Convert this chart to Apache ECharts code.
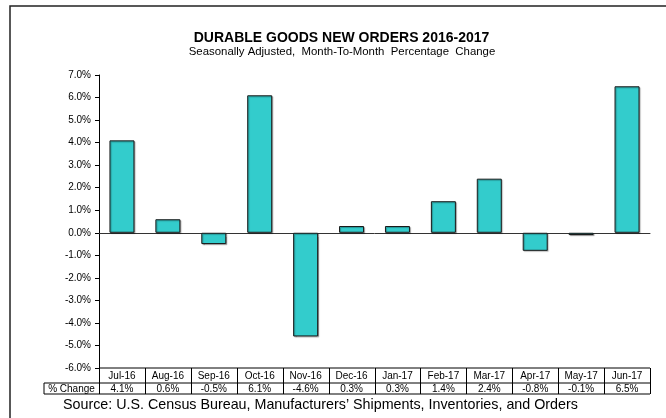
<!DOCTYPE html>
<html>
<head>
<meta charset="utf-8">
<script src="https://cdn.jsdelivr.net/npm/echarts@6/dist/echarts.min.js"></script>
<style>
html,body{margin:0;padding:0;background:#fff;}
#c{width:666px;height:418px;}
</style>
</head>
<body>
<div id="c"></div>
<script>
var categories = ['Jul-16','Aug-16','Sep-16','Oct-16','Nov-16','Dec-16','Jan-17','Feb-17','Mar-17','Apr-17','May-17','Jun-17'];
var values = [4.1, 0.6, -0.5, 6.1, -4.6, 0.3, 0.3, 1.4, 2.4, -0.8, -0.1, 6.5];
var rowHeader = '% Change';
var titleText = 'DURABLE GOODS NEW ORDERS 2016-2017';
var subText = 'Seasonally Adjusted,  Month-To-Month  Percentage  Change';
var sourceText = 'Source: U.S. Census Bureau, Manufacturers\u2019 Shipments, Inventories, and Orders';

var FONT = '"Liberation Sans", Arial, sans-serif';
var chart = echarts.init(document.getElementById('c'), null, {renderer:'canvas'});

var option = {
  backgroundColor: '#fff',
  animation: false,
  grid: {left: 99, right: 16, top: 75, bottom: 50, containLabel: false},
  xAxis: [{
    type: 'category',
    data: categories,
    axisLine: {onZero: true, lineStyle: {color: '#333', width: 1}},
    axisTick: {show: false},
    axisLabel: {show: false},
    splitLine: {show: false}
  }],
  yAxis: [{
    type: 'value',
    min: -6, max: 7, interval: 1,
    axisLine: {show: true, lineStyle: {color: '#000', width: 1}},
    axisTick: {show: true, inside: false, length: 4, lineStyle: {color: '#000'}},
    axisLabel: {margin: 8, fontSize: 10, color: '#000', fontFamily: FONT,
      formatter: function(v){ return v.toFixed(1) + '%'; }},
    splitLine: {show: false}
  }],
  series: [{
    type: 'bar',
    data: values,
    barWidth: 25,
    itemStyle: {
      color: '#33CCCC',
      borderColor: '#1a1a1a',
      borderWidth: 1,
      shadowColor: 'rgba(0,0,0,0.3)',
      shadowOffsetX: 1,
      shadowOffsetY: 1,
      shadowBlur: 1
    }
  }]
};
chart.setOption(option);

function buildGraphics(){
  var els = [];
  // outer frame
  els.push({type:'rect', shape:{x:10, y:6, width:700, height:440}, style:{fill:'none', stroke:'#222', lineWidth:1.5}, z:0, silent:true});
  // title & subtitle
  els.push({type:'text', x:341.5, y:38, style:{text:titleText, font:'bold 14px ' + FONT, fill:'#000', align:'center', verticalAlign:'middle'}, z:10});
  els.push({type:'text', x:342, y:52, style:{text:subText, font:'11.4px ' + FONT, fill:'#000', align:'center', verticalAlign:'middle'}, z:10});

  var c0 = chart.convertToPixel({xAxisIndex:0}, 0);
  var c1 = chart.convertToPixel({xAxisIndex:0}, 1);
  var band = c1 - c0;
  var yTop = chart.convertToPixel({yAxisIndex:0}, -6);
  var r1 = 15, r2 = 11;
  var yMid = yTop + r1, yBot = yMid + r2;
  var x0 = c0 - band/2;
  var xEnd = x0 + band * categories.length;
  var hdrLeft = 44;
  var ls = {stroke:'#000', lineWidth:1};
  els.push({type:'line', shape:{x1:x0, y1:yTop, x2:xEnd, y2:yTop}, style:ls, z:10});
  els.push({type:'line', shape:{x1:hdrLeft, y1:yMid, x2:xEnd, y2:yMid}, style:ls, z:10});
  els.push({type:'line', shape:{x1:hdrLeft, y1:yBot, x2:xEnd, y2:yBot}, style:ls, z:10});
  els.push({type:'line', shape:{x1:hdrLeft, y1:yMid, x2:hdrLeft, y2:yBot}, style:ls, z:10});
  for (var k = 0; k <= categories.length; k++) {
    var xx = Math.round(x0 + band * k) + 0.5;
    els.push({type:'line', shape:{x1:xx, y1:yTop, x2:xx, y2:yBot}, style:ls, z:10});
  }
  els.push({type:'text', x:(hdrLeft + x0)/2, y:yMid + r2/2 + 0.5, style:{text:rowHeader, font:'10px ' + FONT, fill:'#000', align:'center', verticalAlign:'middle'}, z:10});
  for (var i = 0; i < categories.length; i++) {
    var cx = chart.convertToPixel({xAxisIndex:0}, i);
    els.push({type:'text', x:cx, y:yTop + r1/2 + 0.5, style:{text:categories[i], font:'10px ' + FONT, fill:'#000', align:'center', verticalAlign:'middle'}, z:10});
    els.push({type:'text', x:cx, y:yMid + r2/2 + 0.5, style:{text:values[i].toFixed(1) + '%', font:'10px ' + FONT, fill:'#000', align:'center', verticalAlign:'middle'}, z:10});
  }
  els.push({type:'text', x:63, y:405, style:{text:sourceText, font:'14.3px ' + FONT, fill:'#000', align:'left', verticalAlign:'middle'}, z:10});
  chart.setOption({graphic:{elements:els}});
}
buildGraphics();
</script>
</body>
</html>
